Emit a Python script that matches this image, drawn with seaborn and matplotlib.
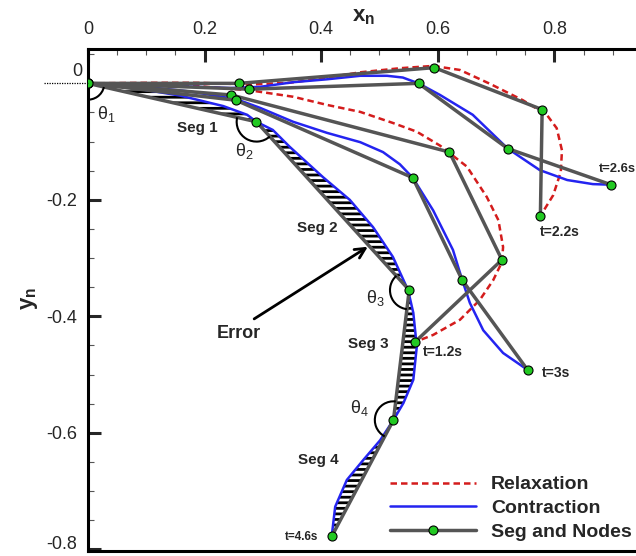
import numpy as np
import matplotlib
matplotlib.use("Agg")
import matplotlib.pyplot as plt
from matplotlib.patches import Arc
from matplotlib.lines import Line2D
from matplotlib.ticker import MultipleLocator
import seaborn as sns

# ---- data (x_n, y_n) ----
# relaxation curves (red dashed)
relax_12_x = [0, 0.106, 0.192, 0.278, 0.352, 0.410, 0.467, 0.523, 0.564, 0.604, 0.650, 0.684, 0.704, 0.712, 0.710, 0.695, 0.672, 0.638, 0.592, 0.561]
relax_12_y = [0, -0.001, -0.005, -0.012, -0.023, -0.037, -0.049, -0.068, -0.083, -0.107, -0.143, -0.195, -0.235, -0.281, -0.307, -0.338, -0.372, -0.406, -0.432, -0.444]
relax_22_x = [0, 0.106, 0.192, 0.278, 0.346, 0.398, 0.467, 0.535, 0.592, 0.638, 0.690, 0.746, 0.787, 0.804, 0.813, 0.811, 0.798, 0.777]
relax_22_y = [0, 0.001, 0.001, -0.002, 0.001, 0.008, 0.019, 0.026, 0.030, 0.023, -0.001, -0.029, -0.054, -0.077, -0.115, -0.152, -0.192, -0.226]

# contraction curves (blue)
contr_26_x = [0, 0.072, 0.158, 0.244, 0.295, 0.352, 0.410, 0.467, 0.513, 0.540, 0.567, 0.604, 0.660, 0.720, 0.775, 0.822, 0.866, 0.897]
contr_26_y = [0, -0.001, -0.005, -0.008, -0.006, 0.002, 0.007, 0.013, 0.013, 0.010, 0.000, -0.020, -0.054, -0.112, -0.149, -0.166, -0.173, -0.174]
contr_30_x = [0, 0.089, 0.175, 0.254, 0.295, 0.352, 0.410, 0.467, 0.506, 0.535, 0.557, 0.592, 0.626, 0.642, 0.655, 0.678, 0.712, 0.754]
contr_30_y = [0, -0.005, -0.014, -0.027, -0.042, -0.066, -0.085, -0.101, -0.118, -0.139, -0.162, -0.218, -0.286, -0.338, -0.377, -0.424, -0.463, -0.492]
contr_46_x = [0, 0.072, 0.158, 0.232, 0.273, 0.289, 0.317, 0.346, 0.403, 0.449, 0.489, 0.523, 0.549, 0.558, 0.564, 0.558, 0.541, 0.524, 0.501, 0.472, 0.444, 0.424, 0.418]
contr_46_y = [0, -0.007, -0.021, -0.039, -0.054, -0.066, -0.080, -0.109, -0.161, -0.200, -0.247, -0.298, -0.355, -0.394, -0.452, -0.509, -0.549, -0.578, -0.613, -0.647, -0.681, -0.727, -0.778]

# segments and nodes
nodes_12_x = [0, 0.246, 0.620, 0.710, 0.561]
nodes_12_y = [0, -0.020, -0.118, -0.303, -0.444]
nodes_22_x = [0, 0.259, 0.594, 0.779, 0.776]
nodes_22_y = [0, 0.000, 0.027, -0.045, -0.227]
nodes_26_x = [0, 0.277, 0.567, 0.720, 0.897]
nodes_26_y = [0, -0.010, 0.000, -0.112, -0.174]
nodes_30_x = [0, 0.254, 0.557, 0.642, 0.754]
nodes_30_y = [0, -0.029, -0.162, -0.338, -0.492]
nodes_46_x = [0, 0.289, 0.551, 0.524, 0.418]
nodes_46_y = [0, -0.066, -0.355, -0.578, -0.778]

time_labels = ["t=1.2s", "t=2.2s", "t=2.6s", "t=3s", "t=4.6s"]

RED = "#d41c1c"
BLUE = "#2424f0"
GRAY = "#555555"
GREEN = "#22c922"

sns.set_style("white")
plt.rcParams["font.family"] = ["Liberation Sans", "DejaVu Sans"]
plt.rcParams["axes.unicode_minus"] = False
plt.rcParams["mathtext.fontset"] = "custom"
plt.rcParams["mathtext.rm"] = "Liberation Sans"
plt.rcParams["mathtext.it"] = "Liberation Sans"
plt.rcParams["mathtext.bf"] = "Liberation Sans:bold"
plt.rcParams["hatch.linewidth"] = 2.0
plt.rcParams["hatch.color"] = "black"

fig = plt.figure(figsize=(6.36, 5.56), dpi=100)
ax = fig.add_axes([88 / 636, 5 / 556, 548 / 636, 502 / 556])

# error area between contraction curve and segments at t=4.6s
err_x = contr_46_x + nodes_46_x[::-1]
err_y = contr_46_y + nodes_46_y[::-1]
ax.fill(err_x, err_y, facecolor="white", edgecolor="black", hatch="---", linewidth=0, zorder=1)

for xs, ys in [(relax_12_x, relax_12_y), (relax_22_x, relax_22_y)]:
    sns.lineplot(x=xs, y=ys, sort=False, estimator=None, color=RED, lw=1.8,
                 linestyle=(0, (2.6, 1.6)), ax=ax, zorder=2)
for xs, ys in [(contr_26_x, contr_26_y), (contr_30_x, contr_30_y), (contr_46_x, contr_46_y)]:
    sns.lineplot(x=xs, y=ys, sort=False, estimator=None, color=BLUE, lw=1.8,
                 solid_joinstyle="round", ax=ax, zorder=3)

node_sets = [(nodes_12_x, nodes_12_y), (nodes_22_x, nodes_22_y), (nodes_26_x, nodes_26_y),
             (nodes_30_x, nodes_30_y), (nodes_46_x, nodes_46_y)]
for xs, ys in node_sets:
    sns.lineplot(x=xs, y=ys, sort=False, estimator=None, color=GRAY, lw=2.5, marker="o",
                 markersize=6.5, markerfacecolor=GREEN, markeredgecolor="black",
                 markeredgewidth=0.8, ax=ax, zorder=4)

# reference line left of origin
ax.plot([-0.075, 0], [0, 0], ls=(0, (1, 1)), color="black", lw=0.9, clip_on=False, zorder=5)

# angle arcs at the joints of the t=4.6s body
arcs = [(nodes_46_x[0], nodes_46_y[0], 0.028, 180, 347),
        (nodes_46_x[1], nodes_46_y[1], 0.034, 167, 312),
        (nodes_46_x[2], nodes_46_y[2], 0.033, 132, 263),
        (nodes_46_x[3], nodes_46_y[3], 0.032, 83, 242)]
for cx, cy, r, t1, t2 in arcs:
    ax.add_patch(Arc((cx, cy), 2 * r, 2 * r, theta1=t1, theta2=t2, color="black", lw=1.5, zorder=6))

ax.text(0.031, -0.053, r"$\theta_1$", fontsize=13, ha="center", va="center")
ax.text(0.268, -0.116, r"$\theta_2$", fontsize=13, ha="center", va="center")
ax.text(0.493, -0.369, r"$\theta_3$", fontsize=13, ha="center", va="center")
ax.text(0.465, -0.557, r"$\theta_4$", fontsize=13, ha="center", va="center")

seg_font = dict(fontsize=11, fontweight="bold", ha="center", va="center")
ax.text(0.187, -0.077, "Seg 1", **seg_font)
ax.text(0.393, -0.249, "Seg 2", **seg_font)
ax.text(0.480, -0.448, "Seg 3", **seg_font)
ax.text(0.395, -0.647, "Seg 4", **seg_font)

ax.annotate("", xy=(0.484, -0.278), xytext=(0.281, -0.407),
            arrowprops=dict(arrowstyle="->", lw=2, color="black", mutation_scale=18))
ax.text(0.259, -0.430, "Error", fontsize=13, fontweight="bold", ha="center", va="center")

t_font = dict(fontsize=10, fontweight="bold", ha="left", va="center")
ax.text(0.574, -0.461, time_labels[0], **t_font)
ax.text(0.775, -0.255, time_labels[1], **t_font)
ax.text(0.877, -0.147, time_labels[2], fontsize=9.3, fontweight="bold", ha="left", va="center")
ax.text(0.779, -0.497, time_labels[3], **t_font)
ax.text(0.338, -0.779, time_labels[4], fontsize=8.5, fontweight="bold", ha="left", va="center")

ax.text(-0.009, 0.020, "0", fontsize=13, ha="right", va="center")

# axes
ax.set_xlim(0, 0.94)
ax.set_ylim(-0.803, 0.059)
ax.xaxis.tick_top()
ax.xaxis.set_label_position("top")
ax.set_xticks([0, 0.2, 0.4, 0.6, 0.8])
ax.set_xticklabels(["0", "0.2", "0.4", "0.6", "0.8"])
ax.set_yticks([0, -0.2, -0.4, -0.6, -0.8])
ax.set_yticklabels(["", "-0.2", "-0.4", "-0.6", "-0.8"])
ax.get_yticklabels()[-1].set_va("baseline")
ax.xaxis.set_minor_locator(MultipleLocator(0.05))
ax.yaxis.set_minor_locator(MultipleLocator(0.05))
ax.tick_params(which="major", direction="in", length=9, width=2.2, labelsize=13, pad=8,
               top=True, bottom=False, left=True, right=False)
ax.tick_params(which="minor", direction="in", length=4.5, width=0.8, color="#555555",
               top=True, bottom=False, left=True, right=False)
for side in ["top", "left", "bottom"]:
    ax.spines[side].set_linewidth(2.2)
    ax.spines[side].set_color("black")
ax.spines["right"].set_visible(False)

ax.set_xlabel(r"$\mathbf{x_n}$", fontsize=16)
ax.xaxis.set_label_coords(0.502, 1.054)
ax.set_ylabel(r"$\mathbf{y_n}$", fontsize=16, rotation=90)
ax.yaxis.set_label_coords(-0.087, 0.504)

handles = [Line2D([], [], color=RED, lw=1.8, ls=(0, (2.6, 1.6))),
           Line2D([], [], color=BLUE, lw=1.8),
           Line2D([], [], color=GRAY, lw=2.5, marker="o", markersize=6.5,
                  markerfacecolor=GREEN, markeredgecolor="black", markeredgewidth=0.8)]
ax.legend(handles, ["Relaxation", "Contraction", "Seg and Nodes"], loc="lower left",
          bbox_to_anchor=(0.519, -0.015), frameon=False, handlelength=4.45,
          prop=dict(size=14, weight="bold"), labelspacing=0.32, handletextpad=0.76,
          markerfirst=True)

fig.savefig("out.png", dpi=100)
